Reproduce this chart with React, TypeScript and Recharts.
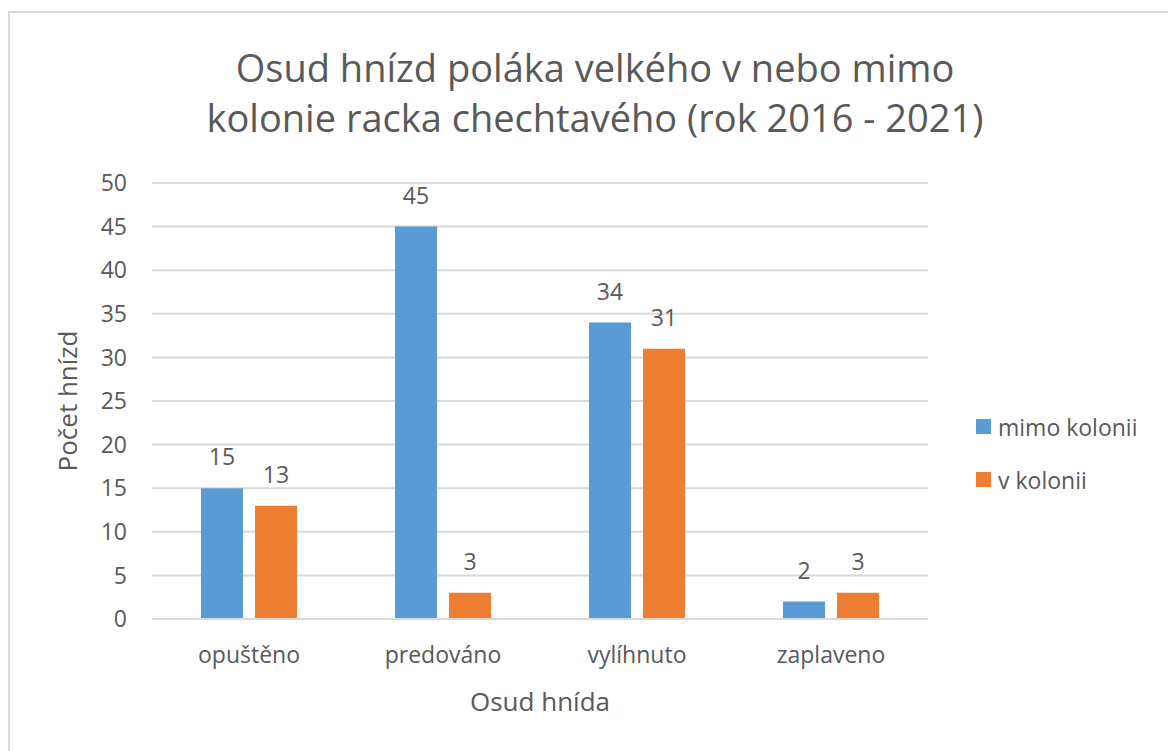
import React from "react";
import { BarChart, Bar, XAxis, YAxis, CartesianGrid, Legend, LabelList } from "recharts";

const categories = ["opuštěno", "predováno", "vylíhnuto", "zaplaveno"];
const mimoKolonii = [15, 45, 34, 2];
const vKolonii = [13, 3, 31, 3];
const yTicks = [0, 5, 10, 15, 20, 25, 30, 35, 40, 45, 50];
const seriesNames = ["mimo kolonii", "v kolonii"];
const titleLines = ["Osud hnízd poláka velkého v nebo mimo", "kolonie racka chechtavého (rok 2016 - 2021)"];

const data = categories.map((c, i) => ({ name: c, mimo: mimoKolonii[i], v: vKolonii[i] }));

const FONT = "'Open Sans', 'Noto Sans', sans-serif";
const TEXT = "#595959";
const BLUE = "#5B9BD5";
const ORANGE = "#ED7D31";

const LegendContent = (props: any) => {
  const { payload } = props;
  return (
    <div style={{ fontFamily: FONT }}>
      {(payload || []).map((p: any, i: number) => (
        <div key={i} style={{ display: "flex", alignItems: "center", height: 53 }}>
          <div style={{ width: 15, height: 15, background: p.color, marginRight: 7 }} />
          <span style={{ fontSize: 23, color: TEXT }}>{p.value}</span>
        </div>
      ))}
    </div>
  );
};

export default function App() {
  return (
    <div style={{ position: "absolute", left: 0, top: 0, width: 1168, height: 751, background: "#fff", overflow: "hidden" }}>
      <div style={{ position: "absolute", left: 8, top: 11, width: 1200, height: 800, borderLeft: "2px solid #d9d9d9", borderTop: "2px solid #d9d9d9" }} />
      <div style={{ position: "absolute", left: 0, top: 42, width: 1190, textAlign: "center", fontFamily: FONT, fontSize: 38, color: TEXT, lineHeight: "50px" }}>
        {titleLines.map((t, i) => (
          <div key={i}>{t}</div>
        ))}
      </div>
      <div style={{ position: "absolute", left: 0, top: 0 }}>
        <BarChart
          width={1168}
          height={751}
          data={data}
          margin={{ top: 183, right: 50, bottom: 72, left: 40 }}
          barSize={42}
          barGap={12}
        >
          <CartesianGrid vertical={false} stroke="#d9d9d9" strokeWidth={2} />
          <XAxis
            dataKey="name"
            height={60}
            tickLine={false}
            axisLine={{ stroke: "#d9d9d9", strokeWidth: 2 }}
            tickSize={0}
            tickMargin={28}
            tick={{ fill: TEXT, fontSize: 23, fontFamily: FONT }}
            label={{ value: "Osud hnída", position: "insideBottom", offset: -32, fill: TEXT, fontSize: 26, fontFamily: FONT }}
          />
          <YAxis
            width={112}
            domain={[0, 50]}
            ticks={yTicks}
            interval={0}
            tickLine={false}
            axisLine={false}
            tickSize={0}
            tickMargin={25}
            tick={{ fill: TEXT, fontSize: 23, fontFamily: FONT }}
            label={{ value: "Počet hnízd", angle: -90, position: "insideLeft", offset: 28, fill: TEXT, fontSize: 26, fontFamily: FONT, style: { textAnchor: "middle" } }}
          />
          <Legend
            layout="vertical"
            align="right"
            verticalAlign="top"
            wrapperStyle={{ left: 976, top: 400, width: 190 }}
            content={<LegendContent />}
          />
          <Bar dataKey="mimo" name={seriesNames[0]} fill={BLUE} isAnimationActive={false}>
            <LabelList dataKey="mimo" position="top" offset={23} fill={TEXT} fontSize={23} fontFamily={FONT} />
          </Bar>
          <Bar dataKey="v" name={seriesNames[1]} fill={ORANGE} isAnimationActive={false}>
            <LabelList dataKey="v" position="top" offset={23} fill={TEXT} fontSize={23} fontFamily={FONT} />
          </Bar>
        </BarChart>
      </div>
    </div>
  );
}
